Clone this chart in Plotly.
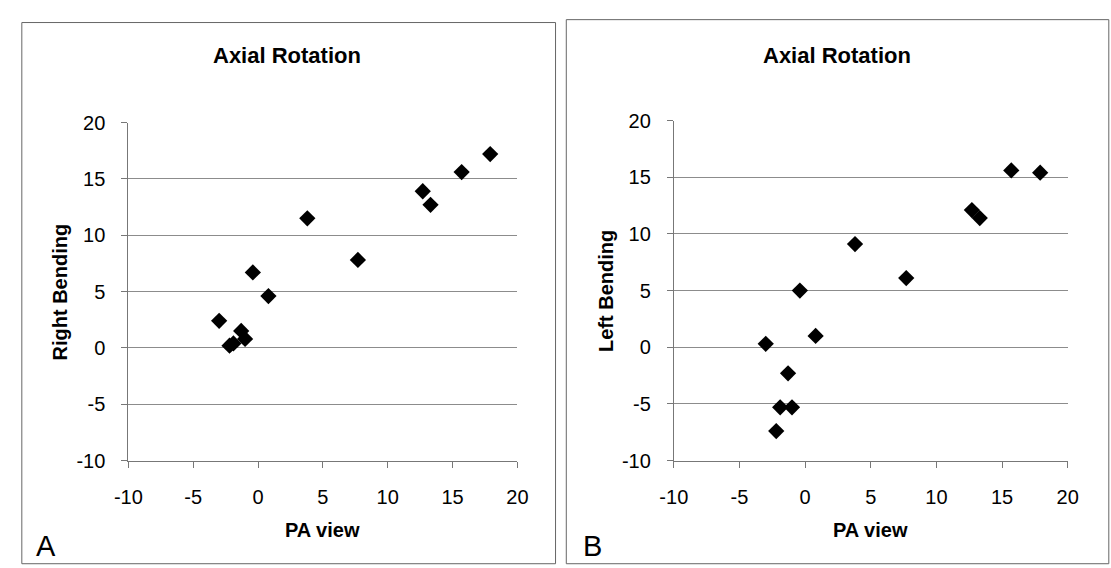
import plotly.graph_objects as go

W, H = 1111, 568

# Data
pa_view = [-3.0, -2.2, -1.9, -1.3, -1.0, -0.4, 0.8, 3.8, 7.7, 12.7, 13.3, 15.7, 17.9]
right_bending = [2.4, 0.2, 0.4, 1.5, 0.8, 6.7, 4.6, 11.5, 7.8, 13.9, 12.7, 15.6, 17.2]
left_bending = [0.3, -7.4, -5.3, -2.3, -5.3, 5.0, 1.0, 9.1, 6.1, 12.1, 11.4, 15.6, 15.4]
tick_vals = [-10, -5, 0, 5, 10, 15, 20]
tick_text = ["-10", "-5", "0", "5", "10", "15", "20"]
panel_title = "Axial Rotation"
x_title = "PA view"
y_titles = ["Right Bending", "Left Bending"]
panel_letters = ["A", "B"]

FONT = "Liberation Sans, Arial, sans-serif"

def px(x):
    return x / W

def py(y):
    return 1 - y / H

fig = go.Figure()
fig.add_trace(go.Scatter(x=pa_view, y=right_bending, mode="markers", xaxis="x", yaxis="y",
                         marker=dict(symbol="diamond", size=12.5, color="black"), showlegend=False))
fig.add_trace(go.Scatter(x=pa_view, y=left_bending, mode="markers", xaxis="x2", yaxis="y2",
                         marker=dict(symbol="diamond", size=12.5, color="black"), showlegend=False))

axis_common = dict(range=[-10, 20], tickvals=tick_vals, ticktext=tick_text, showline=True,
                   linecolor="#777777", linewidth=1, ticks="outside", ticklen=6, tickcolor="#777777",
                   ticklabelstandoff=12,
                   tickfont=dict(family=FONT, size=20, color="black"), zeroline=False, fixedrange=True)

# panel geometry in pixels
A = dict(x0=117, x1=515, y0=116, y1=467.7, fx0=8, fx1=554, fy0=12)
B = dict(x0=675, x1=1078, y0=114, y1=467.7, fx0=565, fx1=1120, fy0=9)

fig.update_layout(
    width=W, height=H, margin=dict(l=0, r=0, t=0, b=0),
    paper_bgcolor="white", plot_bgcolor="white",
    xaxis=dict(axis_common, domain=[px(A["x0"]), px(A["x1"])], anchor="y", showgrid=False),
    yaxis=dict(axis_common, domain=[py(A["y1"]), py(A["y0"])], anchor="x",
               showgrid=True, gridcolor="#8c8c8c", gridwidth=1),
    xaxis2=dict(axis_common, domain=[px(B["x0"]), px(B["x1"])], anchor="y2", showgrid=False),
    yaxis2=dict(axis_common, domain=[py(B["y1"]), py(B["y0"])], anchor="x2",
                showgrid=True, gridcolor="#8c8c8c", gridwidth=1),
    showlegend=False,
)

# panel frames
for P in (A, B):
    fig.add_shape(type="rect", xref="paper", yref="paper", x0=px(P["fx0"]), x1=px(P["fx1"]),
                  y0=py(575), y1=py(P["fy0"]),
                  line=dict(color="#666666", width=1), fillcolor="rgba(0,0,0,0)", layer="below")

title_x = [279, 842]
letter_x = [33, 592]
anns = []
for i, (P, ytitle, letter) in enumerate(zip([A, B], y_titles, panel_letters)):
    cx = (P["x0"] + P["x1"]) / 2
    cy = (P["y0"] + P["y1"]) / 2
    anns.append(dict(x=px(title_x[i]), y=py(46), text=f"<b>{panel_title}</b>", showarrow=False,
                     xref="paper", yref="paper", xanchor="center", yanchor="middle",
                     font=dict(family=FONT, size=22, color="black")))
    anns.append(dict(x=px(cx), y=py(540), text=f"<b>{x_title}</b>", showarrow=False,
                     xref="paper", yref="paper", xanchor="center", yanchor="middle",
                     font=dict(family=FONT, size=20, color="black")))
    anns.append(dict(x=px(P["x0"] - 70), y=py(cy), text=f"<b>{ytitle}</b>", showarrow=False,
                     xref="paper", yref="paper", xanchor="center", yanchor="middle", textangle=-90,
                     font=dict(family=FONT, size=20, color="black")))
    anns.append(dict(x=px(letter_x[i]), y=py(557), text=letter, showarrow=False,
                     xref="paper", yref="paper", xanchor="center", yanchor="middle",
                     font=dict(family=FONT, size=29, color="black")))
fig.update_layout(annotations=anns)

fig.write_html("out.html")
